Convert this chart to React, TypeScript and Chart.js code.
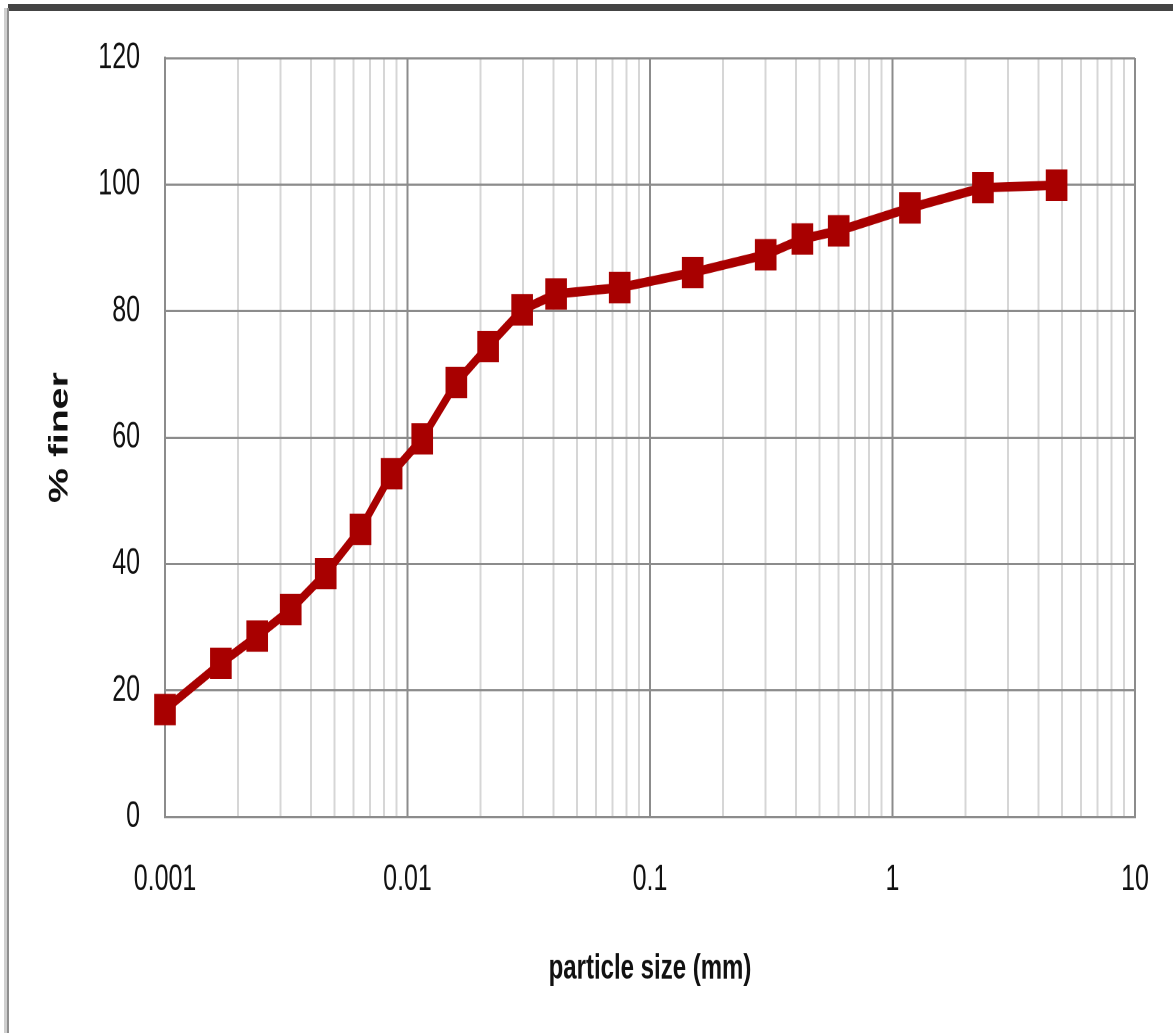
import React, { useEffect, useRef } from "react";
import { Chart, registerables } from "chart.js";

Chart.register(...registerables);

// Grain-size distribution: particle diameter (mm) vs. percent finer
const particleSizes = [
  0.001, 0.0017, 0.0024, 0.0033, 0.0046, 0.0064, 0.0086, 0.0115, 0.0159, 0.0215,
  0.0297, 0.041, 0.075, 0.15, 0.3, 0.425, 0.6, 1.18, 2.36, 4.75,
];
const percentFiner = [
  17, 24.3, 28.6, 32.8, 38.5, 45.5, 54.3, 59.8, 68.7, 74.4,
  80.2, 82.7, 83.7, 86.1, 88.9, 91.4, 92.7, 96.3, 99.5, 99.9,
];

// Axis tick labels
const decadeTicks = [0.001, 0.01, 0.1, 1, 10];
const yTickValues = [0, 20, 40, 60, 80, 100, 120];

const LINE_COLOR = "#a80000";
const MAJOR_GRID = "#8c8c8c";
const MINOR_GRID = "#d6d6d6";

// The chart is laid out on a shorter canvas and stretched vertically,
// which gives the tall, narrow lettering and the upright markers.
const PAGE_W = 1173;
const PAGE_H = 1033;
const CANVAS_H = 712;
const STRETCH = PAGE_H / CANVAS_H;

const FONT = "'Liberation Sans', Arial, sans-serif";

export default function App() {
  const canvasRef = useRef<HTMLCanvasElement | null>(null);

  useEffect(() => {
    const canvas = canvasRef.current;
    if (!canvas) return;

    // log grid: 1..9 x each decade
    const gridValues: { value: number; major: boolean }[] = [];
    decadeTicks.forEach((d, i) => {
      gridValues.push({ value: d, major: true });
      if (i < decadeTicks.length - 1) {
        for (let k = 2; k <= 9; k++) gridValues.push({ value: d * k, major: false });
      }
    });

    const chart = new Chart(canvas, {
      type: "line",
      data: {
        datasets: [
          {
            data: particleSizes.map((x, i) => ({ x, y: percentFiner[i] })),
            borderColor: LINE_COLOR,
            backgroundColor: LINE_COLOR,
            borderWidth: 6.5,
            tension: 0,
            clip: false,
            pointStyle: "rect",
            pointRadius: 15.3,
            pointHoverRadius: 15.3,
            pointBorderWidth: 0,
          },
        ],
      },
      options: {
        responsive: false,
        devicePixelRatio: 2,
        animation: false,
        events: [],
        layout: { padding: { top: 57 / STRETCH, right: 38, left: 0, bottom: 0 } },
        plugins: { legend: { display: false }, tooltip: { enabled: false } },
        scales: {
          x: {
            type: "logarithmic",
            min: 0.001,
            max: 10,
            afterFit: (scale: any) => {
              scale.height = CANVAS_H - 817 / STRETCH;
              scale.paddingLeft = 0;
              scale.paddingRight = 0;
            },
            afterBuildTicks: (scale: any) => {
              scale.ticks = gridValues.map((t) => ({ ...t }));
            },
            grid: {
              drawTicks: false,
              lineWidth: 2,
              color: (ctx: any) => (ctx.tick && ctx.tick.major ? MAJOR_GRID : MINOR_GRID),
            },
            border: { display: true, color: MAJOR_GRID, width: 1.5 },
            ticks: {
              autoSkip: false,
              maxRotation: 0,
              padding: 28.5,
              color: "#111",
              font: { family: FONT, size: 25 },
              callback: (value: any) => {
                const v = Number(value);
                const hit = decadeTicks.find((d) => Math.abs(d - v) / d < 1e-6);
                return hit !== undefined ? String(hit) : "";
              },
            },
            title: {
              display: true,
              text: "particle size (mm)",
              color: "#111",
              padding: { top: 0, bottom: 29.7 },
              font: { family: FONT, size: 24, weight: "bold" },
            },
          },
          y: {
            min: 0,
            max: 120,
            afterFit: (scale: any) => {
              scale.width = 165;
            },
            afterBuildTicks: (scale: any) => {
              scale.ticks = yTickValues.map((value) => ({ value }));
            },
            grid: { drawTicks: false, lineWidth: 1.5, color: MAJOR_GRID },
            border: { display: true, color: MAJOR_GRID, width: 2 },
            ticks: {
              padding: 25,
              color: "#111",
              font: { family: FONT, size: 25 },
            },
            title: {
              display: true,
              text: "% finer",
              color: "#111",
              padding: { top: 44, bottom: 0 },
              font: { family: FONT, size: 27, weight: "bold" },
            },
          },
        },
      },
    });

    return () => chart.destroy();
  }, []);

  return (
    <div style={{ position: "absolute", left: 0, top: 0, width: PAGE_W, height: PAGE_H, background: "#fff", overflow: "hidden" }}>
      <div
        style={{
          position: "absolute",
          left: 0,
          top: 0,
          width: PAGE_W,
          height: CANVAS_H,
          transform: `scaleY(${STRETCH})`,
          transformOrigin: "0 0",
        }}
      >
        <canvas ref={canvasRef} width={PAGE_W} height={CANVAS_H} />
      </div>
      <div style={{ position: "absolute", left: 8, top: 4, width: PAGE_W - 8, height: 7, background: "#444" }} />
      <div style={{ position: "absolute", left: 4, top: 8, width: 3, height: PAGE_H - 8, background: "#cfcfcf" }} />
      <div style={{ position: "absolute", left: 7, top: 8, width: 2, height: PAGE_H - 8, background: "#8f8f8f" }} />
    </div>
  );
}
